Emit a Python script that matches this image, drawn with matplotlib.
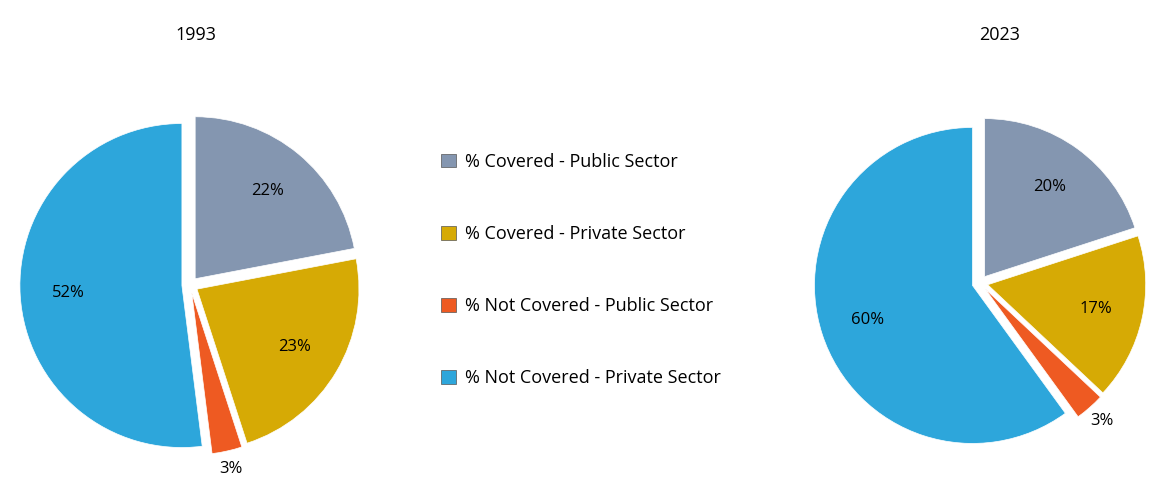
import matplotlib
matplotlib.use("Agg")
import matplotlib.pyplot as plt
from matplotlib.patches import Patch

categories = ["% Covered - Public Sector", "% Covered - Private Sector",
              "% Not Covered - Public Sector", "% Not Covered - Private Sector"]
values_1993 = [22, 23, 3, 52]
values_2023 = [20, 17, 3, 60]
colors = ["#8496B0", "#D6AA05", "#EE5A22", "#2DA6DB"]

fig = plt.figure(figsize=(11.62, 4.86), dpi=100)
plt.rcParams['font.family'] = ['Open Sans', 'DejaVu Sans']

def draw(cx, cy, r, vals, title, tx):
    s = r * 2.6
    ax = fig.add_axes([(cx - s/2)/1162, (486 - cy - s/2)/486, s/1162, s/486])
    wedges, texts, autot = ax.pie(vals, colors=colors, startangle=90, counterclock=False,
                                  explode=[0.05]*4, autopct='%d%%', pctdistance=0.7,
                                  wedgeprops=dict(edgecolor='white', linewidth=0.5),
                                  textprops=dict(fontsize=12))
    for i, t in enumerate(autot):
        if vals[i] <= 3:
            x, y = t.get_position()
            t.set_position((x*1.55, y*1.55))
    ax.set_xlim(-1.3, 1.3); ax.set_ylim(-1.3, 1.3)
    ax.set_aspect('equal'); ax.axis('off')
    fig.text(tx/1162, 1 - 35/486, title, ha='center', va='center', fontsize=13)

draw(190, 285, 162, values_1993, "1993", 196)
draw(980, 283, 158, values_2023, "2023", 1000)

handles = [Patch(facecolor=c, edgecolor='#555555', linewidth=0.5) for c in colors]
fig.legend(handles, categories, loc='center left', bbox_to_anchor=(425/1162, 1 - 270/486),
           frameon=False, fontsize=13, labelspacing=3.0, handlelength=0.8, handleheight=0.8,
           handletextpad=0.5)

fig.savefig("out.png", dpi=100)
